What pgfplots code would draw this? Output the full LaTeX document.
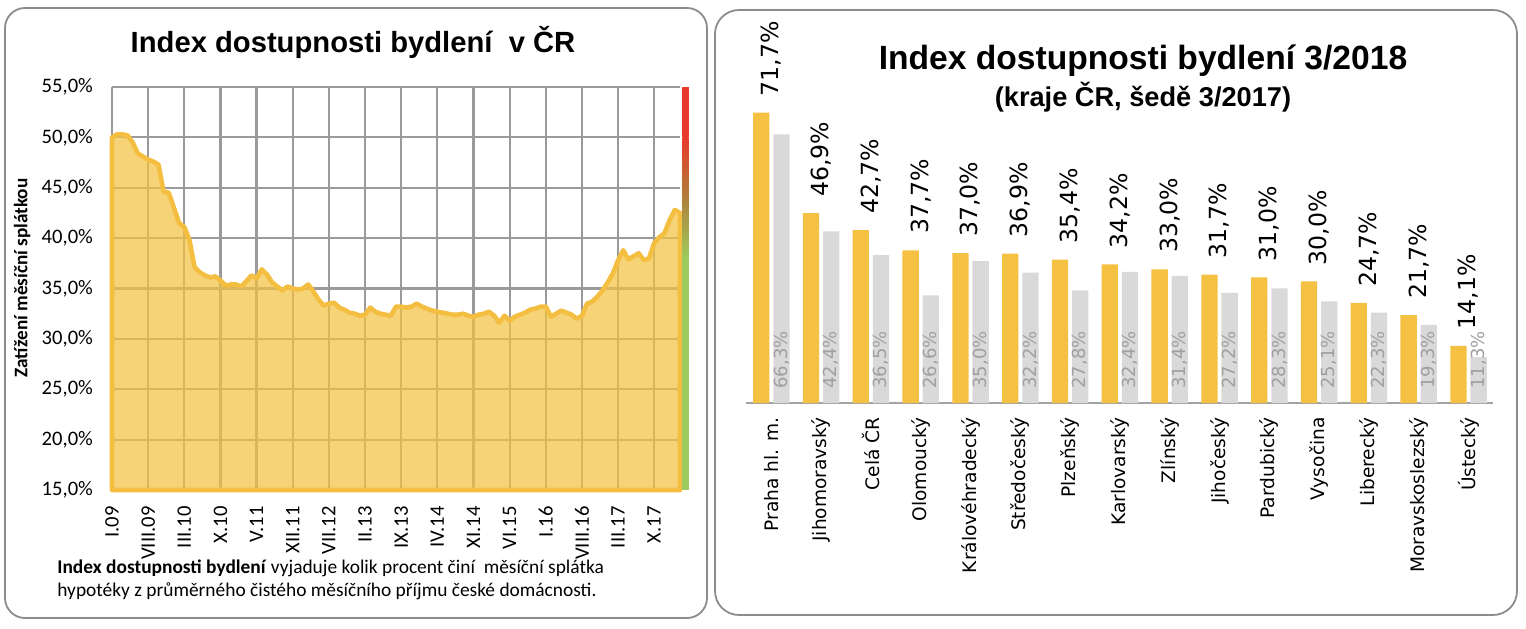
\documentclass[border=0pt]{standalone}
\usepackage{fontspec}
\setmainfont{Carlito}
\newfontfamily\arialf{Liberation Sans}
\newfontfamily\dejavu{DejaVu Sans}
\usepackage{pgfplots}
\usepackage{pgfplotstable}
\pgfplotsset{compat=1.18}
\definecolor{lineY}{HTML}{F4BE41}
\definecolor{fillY}{HTML}{F4C242}
\definecolor{barO}{HTML}{F4C143}
\definecolor{barG}{HTML}{D9D9D9}
\definecolor{gridG}{HTML}{9A9A9A}
\definecolor{axG}{HTML}{A3A3A3}
\definecolor{frameG}{HTML}{8C8C8C}
\definecolor{gradR}{HTML}{E8392A}
\definecolor{gradG}{HTML}{9DCB5E}
\definecolor{gradM}{HTML}{B0803A}
\definecolor{lblG}{HTML}{A0A0A0}
\pgfplotstableread{
m v
0 50.0
1 50.3
2 50.3
3 50.2
4 49.5
5 48.4
6 48.1
7 47.8
8 47.6
9 47.3
10 44.6
11 44.5
12 43.0
13 41.5
14 41.1
15 39.8
16 37.1
17 36.6
18 36.3
19 36.1
20 36.2
21 35.8
22 35.3
23 35.4
24 35.4
25 35.2
26 35.7
27 36.3
28 36.0
29 36.9
30 36.4
31 35.6
32 35.2
33 34.8
34 35.2
35 35.0
36 34.9
37 35.0
38 35.4
39 34.7
40 33.9
41 33.3
42 33.5
43 33.6
44 33.1
45 32.9
46 32.6
47 32.5
48 32.3
49 32.4
50 33.1
51 32.7
52 32.5
53 32.4
54 32.3
55 33.2
56 33.2
57 33.1
58 33.2
59 33.5
60 33.2
61 33.0
62 32.8
63 32.7
64 32.6
65 32.5
66 32.4
67 32.4
68 32.5
69 32.3
70 32.2
71 32.4
72 32.5
73 32.7
74 32.3
75 31.6
76 32.3
77 31.8
78 32.2
79 32.4
80 32.6
81 32.9
82 33.0
83 33.2
84 33.2
85 32.2
86 32.5
87 32.8
88 32.6
89 32.4
90 32.0
91 32.3
92 33.5
93 33.7
94 34.2
95 34.8
96 35.6
97 36.5
98 37.8
99 38.8
100 37.9
101 38.2
102 38.5
103 37.8
104 38.0
105 39.5
106 40.1
107 40.5
108 41.8
109 42.8
110 42.5
}\idxdata
\begin{document}
\begin{tikzpicture}[x=0.5pt,y=0.5pt]
\path (0,0) rectangle (1526,628);
\draw[frameG, line width=0.9pt, rounded corners=10pt] (5,10) rectangle (707,620);
\draw[frameG, line width=0.9pt, rounded corners=12pt] (715,13) rectangle (1517,618);
\node[anchor=base, font=\arialf\bfseries\fontsize{14.6}{16}\selectfont] at (353,575) {Index dostupnosti bydlení\ \ v ČR};
\node[anchor=base, font=\arialf\bfseries\fontsize{16.8}{18}\selectfont] at (1143,558) {Index dostupnosti bydlení 3/2018};
\node[anchor=base, font=\arialf\bfseries\fontsize{13.6}{15}\selectfont] at (1143,521) {(kraje ČR, šedě 3/2017)};
\node[anchor=base west, font=\fontsize{9.7}{12}\selectfont, inner sep=0pt] at (57,55) {\textbf{Index dostupnosti bydlení} vyjaduje kolik procent činí\ \ měsíční splátka};
\node[anchor=base west, font=\fontsize{9.7}{12}\selectfont, inner sep=0pt] at (57,32) {hypotéky z průměrného čistého měsíčního příjmu české domácnosti.};

\begin{axis}[
  at={(56pt,69pt)}, anchor=south west, scale only axis,
  width=284pt, height=201.5pt,
  xmin=0, xmax=110, ymin=15, ymax=55,
  clip=false,
  axis line style={draw=none},
  major tick length=0pt,
  /pgf/number format/assume math mode=true,
  tick label style={font=\fontsize{10.3}{12}\selectfont},
  ytick={15,20,25,30,35,40,45,50,55},
  yticklabel={\pgfmathprintnumber[fixed,fixed zerofill,precision=1,use comma]{\tick}\%},
  yticklabel style={xshift=-6pt},
  xtick={0,7,...,105},
  xticklabels={I.09,VIII.09,III.10,X.10,V.11,XII.11,VII.12,II.13,IX.13,IV.14,XI.14,VI.15,I.16,VIII.16,III.17,X.17},
  x tick label style={rotate=90, anchor=east, inner xsep=8pt},
  ylabel={Zatížení měsíční splátkou},
  ylabel style={font=\bfseries\fontsize{9.6}{11}\selectfont, at={(axis description cs:-0.158,0.526)}, anchor=center},
]
\pgfplotsinvokeforeach{15,20,25,30,35,40,45,50,55}{
  \fill[gridG] ([yshift=-0.55pt]axis cs:0,#1) rectangle ([yshift=0.55pt]axis cs:110,#1);
}
\pgfplotsinvokeforeach{0,7,14,21,28,35,42,49,56,63,70,77,84,91,98,105}{
  \fill[gridG] ([xshift=-0.55pt]axis cs:#1,15) rectangle ([xshift=0.55pt]axis cs:#1,55);
}
\addplot[fill=fillY, fill opacity=0.72, draw=none, forget plot] table[x=m, y=v] {\idxdata} |- (axis cs:0,15) -- cycle;
\addplot[draw=lineY, fill=none, line width=2.3pt, line join=round, mark=none] table[x=m, y=v] {\idxdata} |- (axis cs:0,15) -- cycle;
\fill[gradR] (axis cs:110.45,50) rectangle (axis cs:111.65,55);
\shade[top color=gradR, bottom color=gradG, middle color=gradM] (axis cs:110.45,38) rectangle (axis cs:111.65,50);
\fill[gradG] (axis cs:110.45,15) rectangle (axis cs:111.65,38);
\end{axis}

\begin{axis}[
  at={(373.2pt,112.5pt)}, anchor=south west, scale only axis,
  width=373.5pt, height=151.9pt,
  xmin=-0.5, xmax=14.5, ymin=0, ymax=75,
  clip=false,
  axis x line=bottom, axis y line=none,
  x axis line style={-, axG, line width=1.2pt},
  major tick length=0pt,
  /pgf/number format/assume math mode=true,
  xtick={0,...,14},
  xticklabels={Praha hl. m.,Jihomoravský,Celá ČR,Olomoucký,Královéhradecký,Středočeský,Plzeňský,Karlovarský,Zlínský,Jihočeský,Pardubický,Vysočina,Liberecký,Moravskoslezský,Ústecký},
  x tick label style={rotate=90, anchor=east, font=\dejavu\fontsize{9.3}{11}\selectfont, inner xsep=7pt},
]
\addplot[ybar, bar width=8.15pt, bar shift=-5.05pt, fill=barO, draw=none,
  nodes near coords={\pgfmathprintnumber[fixed,fixed zerofill,precision=1,use comma]{\pgfplotspointmeta}\%},
  nodes near coords style={rotate=90, anchor=west, inner xsep=8pt, font=\dejavu\fontsize{11.8}{13}\selectfont, text=black}]
coordinates {(0,71.7)(1,46.9)(2,42.7)(3,37.7)(4,37.0)(5,36.9)(6,35.4)(7,34.2)(8,33.0)(9,31.7)(10,31.0)(11,30.0)(12,24.7)(13,21.7)(14,14.1)};
\addplot[ybar, bar width=8.15pt, bar shift=5.05pt, fill=barG, draw=none]
coordinates {(0,66.3)(1,42.4)(2,36.5)(3,26.6)(4,35.0)(5,32.2)(6,27.8)(7,32.4)(8,31.4)(9,27.2)(10,28.3)(11,25.1)(12,22.3)(13,19.3)(14,11.3)};
\addplot[draw=none, mark=none, point meta=explicit,
  nodes near coords={\pgfmathprintnumber[fixed,fixed zerofill,precision=1,use comma]{\pgfplotspointmeta}\%},
  nodes near coords style={rotate=90, anchor=west, inner xsep=7pt, font=\dejavu\fontsize{9}{11}\selectfont, text=lblG}]
coordinates {(0.203,0)[66.3](1.203,0)[42.4](2.203,0)[36.5](3.203,0)[26.6](4.203,0)[35.0](5.203,0)[32.2](6.203,0)[27.8](7.203,0)[32.4](8.203,0)[31.4](9.203,0)[27.2](10.203,0)[28.3](11.203,0)[25.1](12.203,0)[22.3](13.203,0)[19.3](14.203,0)[11.3]};
\end{axis}
\end{tikzpicture}
\end{document}
